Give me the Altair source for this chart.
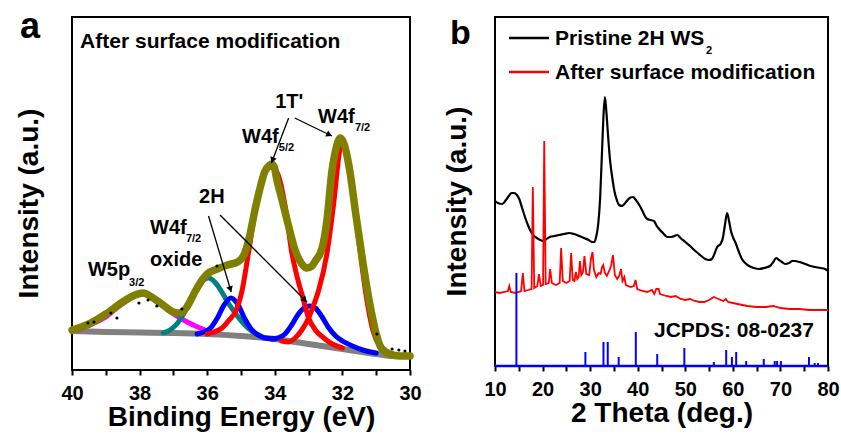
import math
import altair as alt
import pandas as pd

FONT = "Liberation Sans"
FRAME = "black"

# ---------------- (a) XPS, W 4f / W 5p region ----------------
# (binding energy in eV, intensity in a.u.)
xps_background = [(40.0, 39), (39.0, 38), (38.0, 37.5), (37.0, 37), (36.0, 36), (35.0, 34),
                  (34.0, 31), (33.0, 26), (32.0, 21), (31.0, 16), (30.5, 14), (30.0, 14)]
xps_w5p = [(39.8, 40), (39.4, 46), (39.0, 53), (38.6, 64), (38.2, 73), (37.9, 76), (37.6, 71),
           (37.4, 66), (37.24, 62), (36.95, 55), (36.65, 49), (36.35, 44), (36.06, 40), (35.8, 37)]
xps_oxide = [(37.3, 37), (37.1, 40), (36.9, 46), (36.7, 56), (36.45, 72), (36.2, 87), (35.96, 92),
             (35.75, 87), (35.55, 77), (35.36, 66), (35.15, 56), (34.97, 48), (34.8, 42), (34.6, 37),
             (34.4, 34)]
xps_2h_52 = [(36.3, 36), (36.1, 38), (35.9, 42), (35.7, 52), (35.5, 65), (35.3, 72), (35.1, 66),
             (34.9, 52), (34.7, 41), (34.5, 35), (34.3, 32), (34.0, 31)]
xps_2h_72 = [(34.1, 31), (33.9, 32), (33.7, 36), (33.5, 45), (33.3, 56), (33.1, 63), (32.95, 64),
             (32.8, 62), (32.6, 53), (32.4, 42), (32.2, 34), (32.0, 29), (31.7, 24), (31.4, 20),
             (31.0, 17)]
xps_1t_52 = [(36.0, 36), (35.8, 38), (35.56, 42), (35.35, 50), (35.17, 58), (34.97, 79), (34.77, 119),
             (34.6, 155), (34.4, 185), (34.25, 200), (34.1, 204), (33.9, 195), (33.7, 165), (33.5, 118),
             (33.3, 88), (33.2, 76), (33.0, 52), (32.8, 40), (32.55, 32), (32.3, 26), (32.0, 22)]
xps_1t_72 = [(33.8, 29), (33.6, 28), (33.4, 32), (33.2, 40), (33.0, 52), (32.85, 65), (32.7, 80),
             (32.46, 116), (32.26, 166), (32.1, 215), (32.03, 229), (31.9, 220), (31.7, 180),
             (31.5, 125), (31.3, 75), (31.1, 40), (30.9, 24), (30.6, 16)]
xps_envelope = [(40.0, 40), (39.5, 46), (39.0, 56), (38.5, 68), (38.2, 74), (37.9, 77), (37.6, 72),
                (37.3, 65), (37.0, 58), (36.8, 57), (36.6, 63), (36.35, 79), (36.15, 90), (36.0, 96),
                (35.7, 101), (35.4, 105), (35.1, 108), (34.9, 116), (34.75, 133), (34.6, 158),
                (34.45, 180), (34.3, 198), (34.15, 205), (34.08, 206), (34.0, 201), (33.95, 192),
                (33.8, 172), (33.6, 145), (33.4, 120), (33.2, 106), (33.05, 102), (32.9, 104),
                (32.8, 109), (32.6, 122), (32.46, 149), (32.31, 199), (32.2, 220), (32.06, 232),
                (31.95, 226), (31.8, 203), (31.6, 155), (31.4, 109), (31.2, 68), (31.0, 36),
                (30.85, 22), (30.6, 16), (30.3, 14), (30.0, 14)]
xps_raw = [(39.53, 47), (39.35, 48), (38.85, 57), (38.67, 52), (38.02, 67), (37.75, 70),
           (37.49, 64), (36.75, 61), (35.71, 104), (30.98, 36), (30.53, 21), (30.33, 20), (30.15, 19)]

# peak labels: (be, intensity, text, font size)
xps_labels = [(39.76, 322, "After surface modification", 21),
              (33.99, 262, "1T'", 20),
              (32.72, 247, "W4f", 20), (31.63, 239, "7/2", 11),
              (34.97, 227, "W4f", 20), (33.88, 219, "5/2", 11),
              (36.24, 167, "2H", 20),
              (37.69, 136, "W4f", 20), (36.63, 128, "7/2", 11),
              (37.69, 104, "oxide", 20),
              (39.53, 94, "W5p", 20), (38.31, 84, "3/2", 11)]
# arrows: (be start, intensity start, be tip, intensity tip)
xps_arrows = [(33.59, 252, 34.10, 207),
              (33.41, 252, 32.31, 234),
              (35.96, 154, 35.29, 78),
              (35.62, 155, 33.05, 68)]

# ---------------- (b) XRD ----------------
xrd_pristine = [(10.0, 165), (10.6, 163), (11.5, 162), (12.3, 166), (12.9, 170), (13.5, 173), (14.0, 173),
                (14.6, 171), (15.1, 167), (15.7, 158), (16.3, 149), (17.0, 140), (17.6, 134), (18.2, 130),
                (18.8, 128), (19.5, 126), (20.2, 125), (20.8, 127), (21.5, 129), (22.5, 130), (23.5, 131),
                (24.5, 132), (25.6, 133), (26.6, 132), (27.7, 130), (28.7, 128), (29.7, 126), (30.4, 124),
                (30.9, 124), (31.3, 130), (31.7, 142), (32.1, 168), (32.5, 215), (32.8, 250), (33.1, 269),
                (33.4, 255), (33.8, 228), (34.2, 205), (34.6, 190), (35.1, 175), (35.6, 166), (36.1, 161),
                (36.7, 160), (37.2, 162), (37.7, 165), (38.3, 168), (39.0, 169), (39.6, 166), (40.2, 162),
                (40.9, 156), (41.5, 150), (42.0, 147), (42.7, 146), (43.4, 145), (44.0, 140), (44.5, 137),
                (45.3, 133), (46.2, 129), (47.0, 129), (47.7, 130), (48.3, 131), (49.0, 128), (50.0, 124),
                (51.0, 120), (52.1, 115), (53.1, 111), (54.2, 107), (55.0, 106), (55.6, 107), (56.2, 113),
                (56.7, 119), (57.4, 122), (57.9, 128), (58.3, 140), (58.8, 153), (59.2, 145), (59.6, 135),
                (60.0, 129), (60.5, 124), (61.2, 115), (61.9, 107), (62.6, 103), (63.4, 100), (64.4, 98),
                (65.5, 97), (66.6, 98), (67.8, 100), (68.5, 104), (69.1, 108), (69.7, 106), (70.3, 104),
                (71.0, 102), (71.8, 103), (72.5, 105), (73.1, 105), (74.0, 104), (75.2, 102), (76.3, 100),
                (77.3, 99), (78.4, 98), (79.4, 97), (80.0, 95)]
xrd_modified = [(10.0, 74), (11.0, 73), (12.0, 74), (12.7, 75), (13.0, 80), (13.3, 74), (14.3, 73), (15.5, 75),
                (15.85, 93), (16.2, 75), (17.0, 76), (17.7, 77), (17.95, 179), (18.25, 78), (18.9, 80),
                (19.25, 92), (19.6, 80), (20.1, 81), (20.35, 225), (20.65, 82), (21.3, 83), (21.6, 97),
                (21.95, 83), (22.8, 81), (23.6, 83), (23.9, 118), (24.25, 85), (25.0, 83), (25.7, 85),
                (26.0, 113), (26.35, 86), (26.7, 85), (27.0, 94), (27.3, 87), (27.6, 89), (27.85, 105),
                (28.15, 91), (28.5, 94), (28.8, 110), (29.2, 92), (29.8, 91), (30.2, 108), (30.5, 114),
                (30.8, 96), (31.3, 89), (31.8, 93), (32.2, 92), (32.5, 99), (32.75, 101), (33.1, 93),
                (33.5, 90), (34.0, 95), (34.4, 100), (34.8, 111), (35.2, 91), (35.7, 87), (36.1, 90),
                (36.5, 97), (36.8, 85), (37.2, 89), (37.5, 81), (38.5, 79), (39.2, 80), (39.55, 86),
                (39.9, 77), (41.0, 75), (42.0, 74), (43.0, 76), (43.5, 72), (43.9, 77), (44.4, 77),
                (44.7, 72), (46.0, 70), (47.0, 69), (48.0, 70), (49.0, 67), (50.0, 66), (51.0, 67),
                (52.0, 65), (53.0, 64), (54.0, 64), (55.0, 66), (56.0, 69), (57.0, 67), (58.0, 65),
                (58.5, 67), (59.0, 64), (60.0, 63), (61.0, 62), (62.0, 61), (63.0, 60), (65.0, 59),
                (67.0, 59), (68.5, 60), (70.0, 58), (72.0, 57), (74.0, 57), (76.0, 56), (78.0, 56),
                (80.0, 56)]
jcpds_pos = [14.5, 29.0, 32.8, 33.7, 36.0, 39.6, 44.1, 49.8, 56.0, 58.6, 59.8, 60.7, 62.8,
             66.5, 68.8, 69.3, 70.1, 76.0, 77.2, 77.9]
jcpds_int = [93, 14, 24, 24, 9, 34, 12, 18, 4, 16, 9, 14, 5, 7, 5, 5, 5, 9, 3, 3]

# ---------------- layout ----------------
WA, HA = 338, 353
WB, HB = 333, 349
XA_RANGE, YA_MAX = (30, 40), 353
XB_RANGE, YB_MAX = (10, 80), 349
ONE = pd.DataFrame({"k": [0]})


def bold_text(df, size, **kw):
    return alt.Chart(df).mark_text(font=FONT, fontWeight="bold", fontSize=size, color="black",
                                   align="left", baseline="alphabetic", **kw)


def frame_df(xr, ymax, xf, yf):
    """The four edges of the plot box, in data units."""
    lo, hi = xr
    edges = [(lo, 0, hi, 0), (lo, ymax, hi, ymax), (lo, 0, lo, ymax), (hi, 0, hi, ymax)]
    return pd.DataFrame(edges, columns=[xf, yf, xf + "2", yf + "2"])


def box_df(xr, ymax, xf, yf):
    lo, hi = xr
    return pd.DataFrame({xf: [lo], xf + "2": [hi], yf: [0], yf + "2": [ymax]})


axis_common = dict(labelFlush=False, titlePadding=0, labelPadding=8)

# ---- panel a ----
xa = alt.X("be:Q", scale=alt.Scale(domain=list(XA_RANGE), reverse=True, nice=False, zero=False),
           axis=alt.Axis(values=list(range(30, 41)),
                         labelExpr="datum.value % 2 == 0 ? datum.label : ''",
                         title="Binding Energy (eV)", **axis_common))
ya = alt.Y("cps:Q", scale=alt.Scale(domain=[0, YA_MAX], nice=False, zero=False),
           axis=alt.Axis(title="Intensity (a.u.)", labels=False, ticks=False,
                         titlePadding=29, titleY=186))


def xps_line(points, color, width):
    df = pd.DataFrame(points, columns=["be", "cps"])
    return alt.Chart(df).mark_line(color=color, strokeWidth=width, interpolate="monotone",
                                   strokeCap="round").encode(x=xa, y=ya)


layers_a = [
    alt.Chart(box_df(XA_RANGE, YA_MAX, "be", "cps")).mark_rect(
        fill="transparent", stroke=FRAME, strokeWidth=2).encode(x=xa, x2="be2:Q", y=ya, y2="cps2:Q"),
    alt.Chart(frame_df(XA_RANGE, YA_MAX, "be", "cps")).mark_rule(
        color=FRAME, strokeWidth=2).encode(x=xa, y=ya, x2="be2:Q", y2="cps2:Q"),
    xps_line(xps_background, "#808080", 6),
    xps_line(xps_w5p, "#ff00ff", 5),
    xps_line(xps_oxide, "#008080", 5),
    xps_line(xps_2h_52, "#0000ff", 5),
    xps_line(xps_2h_72, "#0000ff", 5),
    xps_line(xps_1t_52, "#ff0000", 5),
    xps_line(xps_1t_72, "#ff0000", 5),
    xps_line(xps_envelope, "#808000", 7.5),
    alt.Chart(pd.DataFrame(xps_raw, columns=["be", "cps"])).mark_circle(
        color="black", size=10, opacity=1).encode(x=xa, y=ya),
]

arrow_df = pd.DataFrame(xps_arrows, columns=["be", "cps", "be2", "cps2"])
layers_a.append(alt.Chart(arrow_df).mark_rule(color="black", strokeWidth=1.3).encode(
    x=xa, y=ya, x2="be2:Q", y2="cps2:Q"))

# arrow heads: triangles turned along each shaft, centred just behind the tip
sx, sy = WA / 10.0, HA / YA_MAX
HEAD = 45
h_back = math.sqrt(3) * (math.sqrt(HEAD) / 2) / 2
heads = []
for b0, c0, b1, c1 in xps_arrows:
    dx, dy = -(b1 - b0) * sx, -(c1 - c0) * sy
    L = math.hypot(dx, dy)
    ux, uy = dx / L, dy / L
    heads.append({"be": b1 + h_back * ux / sx, "cps": c1 + h_back * uy / sy,
                  "ang": math.degrees(math.atan2(ux, -uy)) % 360})
layers_a.append(alt.Chart(pd.DataFrame(heads)).mark_point(
    shape="triangle-up", filled=True, size=HEAD, color="black", opacity=1).encode(
    x=xa, y=ya, angle=alt.Angle("ang:Q", scale=None)))

lab_df = pd.DataFrame(xps_labels, columns=["be", "cps", "text", "fs"])
for fs in sorted(lab_df.fs.unique()):
    layers_a.append(bold_text(lab_df[lab_df.fs == fs], int(fs)).encode(x=xa, y=ya, text="text:N"))

layers_a.append(bold_text(pd.DataFrame({"t": ["a"]}), 36).encode(
    x=alt.value(-52), y=alt.value(21), text="t:N"))

panel_a = alt.layer(*layers_a).properties(width=WA, height=HA)

# ---- panel b ----
xb = alt.X("tt:Q", scale=alt.Scale(domain=list(XB_RANGE), nice=False, zero=False),
           axis=alt.Axis(values=list(range(10, 81, 5)),
                         labelExpr="datum.value % 10 == 0 ? datum.label : ''",
                         title="2 Theta (deg.)", **axis_common))
yb = alt.Y("inten:Q", scale=alt.Scale(domain=[0, YB_MAX], nice=False, zero=False),
           axis=alt.Axis(title="Intensity (a.u.)", labels=False, ticks=False,
                         titlePadding=24, titleY=184))

stick_df = pd.DataFrame({"tt": jcpds_pos, "inten": jcpds_int, "base": [0] * len(jcpds_pos)})
stick_base = pd.DataFrame({"tt": [XB_RANGE[0]], "inten": [0], "tt2": [XB_RANGE[1]]})

layers_b = [
    alt.Chart(box_df(XB_RANGE, YB_MAX, "tt", "inten")).mark_rect(
        fill="transparent", stroke=FRAME, strokeWidth=2).encode(x=xb, x2="tt2:Q", y=yb, y2="inten2:Q"),
    alt.Chart(frame_df(XB_RANGE, YB_MAX, "tt", "inten")).mark_rule(
        color=FRAME, strokeWidth=2).encode(x=xb, y=yb, x2="tt2:Q", y2="inten2:Q"),
    alt.Chart(pd.DataFrame(xrd_pristine, columns=["tt", "inten"])).mark_line(
        color="black", strokeWidth=2.2, interpolate="monotone").encode(x=xb, y=yb),
    alt.Chart(pd.DataFrame(xrd_modified, columns=["tt", "inten"])).mark_line(
        color="#ff0000", strokeWidth=1.8).encode(x=xb, y=yb),
    alt.Chart(stick_df).mark_rule(color="#0000ff", strokeWidth=2).encode(x=xb, y=yb, y2="base:Q"),
    alt.Chart(stick_base).mark_rule(color="#0000ff", strokeWidth=2.5).encode(x=xb, y=yb, x2="tt2:Q"),
    # legend
    alt.Chart(ONE).mark_rule(color="black", strokeWidth=2.5).encode(
        x=alt.value(14), x2=alt.value(54), y=alt.value(21)),
    alt.Chart(ONE).mark_rule(color="#ff0000", strokeWidth=2.5).encode(
        x=alt.value(14), x2=alt.value(54), y=alt.value(55)),
    bold_text(pd.DataFrame({"t": ["Pristine 2H WS"]}), 21).encode(
        x=alt.value(60), y=alt.value(28), text="t:N"),
    bold_text(pd.DataFrame({"t": ["2"]}), 11).encode(x=alt.value(211), y=alt.value(37), text="t:N"),
    bold_text(pd.DataFrame({"t": ["After surface modification"]}), 21).encode(
        x=alt.value(60), y=alt.value(62), text="t:N"),
    bold_text(pd.DataFrame({"t": ["JCPDS: 08-0237"]}), 21).encode(
        x=alt.value(159), y=alt.value(320), text="t:N"),
    bold_text(pd.DataFrame({"t": ["b"]}), 34).encode(x=alt.value(-45), y=alt.value(27), text="t:N"),
]
panel_b = alt.layer(*layers_b).properties(width=WB, height=HB)

chart = alt.hconcat(panel_a, panel_b, spacing=85, bounds="flush").properties(
    padding={"left": 14, "top": 8, "right": 0, "bottom": 0}
).configure_view(stroke="black", strokeWidth=2).configure_axis(
    labelFont=FONT, labelFontWeight="bold", labelFontSize=20, labelColor="black",
    titleFont=FONT, titleFontWeight="bold", titleFontSize=28, titleColor="black",
    tickColor="black", tickWidth=2, tickSize=5, grid=False, domain=False
)

chart.save("out.html", embed_options={"renderer": "svg", "actions": False})
